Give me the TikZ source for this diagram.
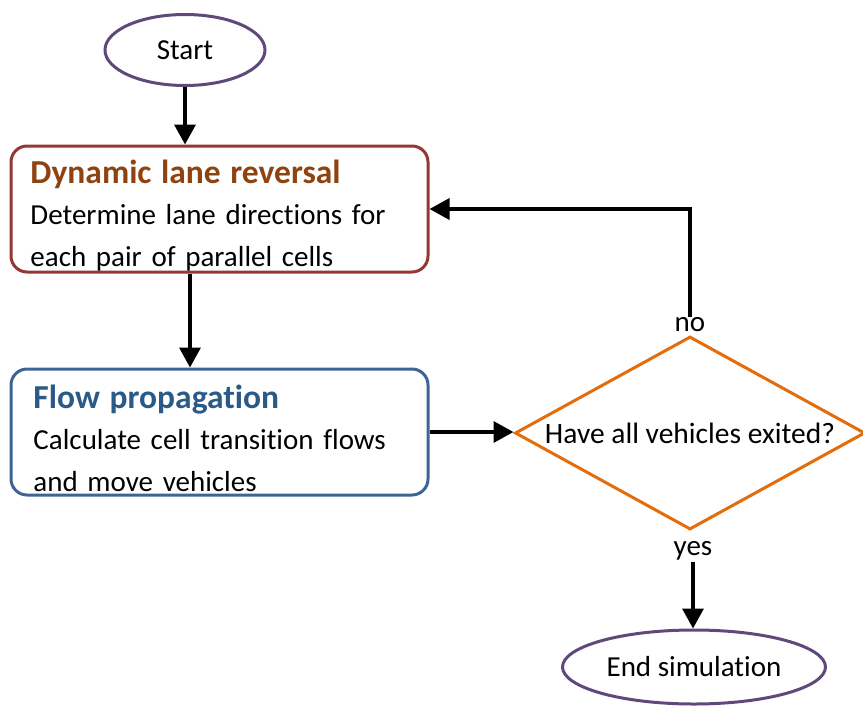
\documentclass[tikz,border=0pt]{standalone}
\usepackage{fontspec}
\setmainfont{Carlito}[Ligatures=NoCommon]
\usetikzlibrary{shapes.geometric,arrows.meta}

\definecolor{termpurple}{HTML}{5F497A}
\definecolor{dlrborder}{HTML}{953735}
\definecolor{dlrtitle}{HTML}{8E4310}
\definecolor{fpborder}{HTML}{3E6494}
\definecolor{fptitle}{HTML}{2A5A88}
\definecolor{decorange}{HTML}{E46C0A}

% heading line of a process box
\newcommand{\boxhead}[2]{\rule{0pt}{36pt}{\fontsize{33.5}{41.5}\selectfont\bfseries\textcolor{#1}{#2}}}

\tikzset{
  terminal/.style={ellipse, draw=termpurple, line width=3pt, fill=white,
    inner sep=0pt, font=\fontsize{29}{35}\selectfont},
  process/.style={rectangle, rounded corners=16pt, line width=3pt, fill=white,
    minimum width=417pt, minimum height=126pt, text width=378pt, align=left,
    inner sep=0pt, font=\fontsize{29}{41.5}\selectfont},
  decision/.style={diamond, draw=decorange, line width=3pt, fill=white,
    minimum width=350pt, minimum height=193pt, inner sep=0pt},
  flowarrow/.style={line width=3.5pt, -{Triangle[length=20pt,width=21pt]}},
  answer/.style={inner sep=1pt, font=\fontsize{29}{34}\selectfont},
}

\begin{document}
\begin{tikzpicture}[x=1pt,y=-1pt]
  \useasboundingbox (0,0) rectangle (863,705);

  % start and end terminals
  \node[terminal, minimum width=160pt, minimum height=71pt] (start) at (185,50) {Start};
  \node[terminal, minimum width=263pt, minimum height=74pt] (end) at (694,667) {End simulation};

  % process steps
  \node[process, draw=dlrborder] (dlr) at (219.5,209)
    {\boxhead{dlrtitle}{Dynamic lane reversal}\\
     Determine lane directions for\\ each pair of parallel cells};
  \node[process, draw=fpborder] (fp) at (219.5,432)
    {\hspace*{3pt}\boxhead{fptitle}{Flow propagation}\\
     \hspace*{3pt}Calculate cell transition flows\\ \hspace*{3pt}and move vehicles};

  % exit check
  \node[decision] (dec) at (690,433) {};
  \node[font=\fontsize{29.5}{35}\selectfont, inner sep=0pt] (dectext) at (dec.center) {Have all vehicles exited?};

  % branch labels
  \node[answer] (no) at (690,325) {no};
  \node[answer] (yes) at (693,551) {yes};

  % connectors
  \coordinate (downx) at (190,0);
  \draw[flowarrow] (start.south) -- (start.south |- dlr.north);
  \draw[flowarrow] (dlr.south -| downx) -- (fp.north -| downx);
  \draw[flowarrow] (fp.east) -- (fp.east -| dec.west);
  \draw[flowarrow] (no.north) |- (dlr.east);
  \draw[flowarrow] (yes.south) -- (yes.south |- end.north);
\end{tikzpicture}
\end{document}
